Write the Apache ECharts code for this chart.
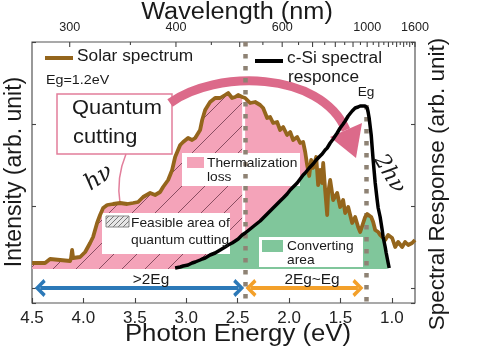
<!DOCTYPE html>
<html><head><meta charset="utf-8">
<script src="https://cdn.jsdelivr.net/npm/echarts/dist/echarts.min.js"></script>
<style>html,body{margin:0;padding:0;background:#fff}#c{width:478px;height:358px}</style>
</head><body><div id="c"></div>
<script>
// ---------------- data ----------------
// photon energy grid (eV)
const energies = [4.499,4.421,4.373,4.324,4.227,4.129,4.120,4.110,4.100,4.032,3.983,3.935,3.906,3.867,3.838,3.808,3.769,3.711,3.643,3.575,3.517,3.468,3.419,3.351,3.303,3.254,3.225,3.176,3.137,3.108,3.059,3.030,2.982,2.943,2.913,2.865,2.845,2.816,2.768,2.719,2.670,2.622,2.592,2.554,2.524,2.495,2.456,2.427,2.378,2.330,2.281,2.252,2.213,2.184,2.155,2.116,2.087,2.057,2.019,1.989,1.960,1.921,1.892,1.863,1.843,1.824,1.804,1.785,1.766,1.736,1.717,1.698,1.678,1.668,1.649,1.629,1.620,1.600,1.571,1.532,1.503,1.474,1.454,1.425,1.386,1.357,1.328,1.308,1.289,1.260,1.240,1.231,1.221,1.201,1.192,1.182,1.162,1.143,1.133,1.114,1.094,1.085,1.065,1.055,1.036,1.026,0.997,0.968,0.939,0.900,0.871,0.841,0.803,0.775];
// solar spectrum intensity (arb. unit)
const solarSpectrum = [6,6,6,10,9,8,11,19,11,12,17,26,32,46,54,61,64,65,66,65,66,67,72,76,74,77,82,89,99,112,124,127,131,129,131,139,149,159,167,171,171,174,176,171,172,174,172,171,166,167,164,161,151,152,146,147,139,142,134,137,129,132,126,127,117,104,93,109,101,112,84,99,86,106,79,54,76,89,69,76,62,69,56,62,46,52,42,37,37,52,55,56,55,52,51,47,39,38,37,34,32,31,29,31,34,33,31,22,27,22,27,24,26,29];
// c-Si spectral response (arb. unit), null where not drawn
const siResponse = [null,null,null,null,null,null,null,null,null,null,null,null,null,null,null,null,null,null,null,null,null,null,null,null,null,null,null,null,null,1,2,3,4,6,7,9,10,11,14,16,19,22,24,26,28,30,34,36,40,44,48,51,55,58,61,65,68,71,75,79,82,86,90,94,96,98,101,103,105,109,111,113,115,116,119,121,123,126,130,136,141,145,148,153,158,161,162,163,164,163,161,157,151,134,122,109,86,69,61,52,39,32,22,16,6,1,null,null,null,null,null,null,null,null];
// top axis (wavelength, nm)
const wavelengthTicks = [300,350,400,450,500,550,600,650,700,750,800,850,900,950,1000,1050,1100,1150,1200,1250,1300,1350,1400,1450,1500,1550,1600];
const wavelengthLabels = [300,400,600,1000,1600];
// band-gap markers (eV): 2Eg, Eg
const gapMarkers = [2.43, 1.25];
// energy-range arrows (eV): [>2Eg], [2Eg~Eg]
const rangeArrows = [[4.42, 2.49], [2.37, 1.33]];
const rangeLabels = ['>2Eg', '2Eg~Eg'];

// ---------------- build ----------------
const FONT = '"Liberation Sans", Arial, Helvetica, sans-serif';
const PINK = '#f4a3b9', GREEN = '#80c69b', BROWN = '#94651c', ARROW = '#dc6a8a', BOXPINK = '#e27e9b';
const yMin = -34, yMax = 227;
const X = e => -e;

function hatchCanvas(size, bg, stroke, lw) {
  const c = document.createElement('canvas'); c.width = size; c.height = size;
  const g = c.getContext('2d');
  if (bg) { g.fillStyle = bg; g.fillRect(0, 0, size, size); }
  g.strokeStyle = stroke; g.lineWidth = lw;
  g.beginPath();
  for (const o of [-size, 0, size]) { g.moveTo(o, size); g.lineTo(o + size, 0); }
  g.stroke();
  return c;
}
const hatchPattern = {image: hatchCanvas(23, PINK, 'rgba(110,55,75,0.8)', 1), repeat: 'repeat'};
const legendHatch = {image: hatchCanvas(5, '#e6e6e6', '#777', 1), repeat: 'repeat'};

const twoEg = gapMarkers[0];
let lastCover = 0;
energies.forEach((e, i) => { if (siResponse[i] != null && siResponse[i] >= solarSpectrum[i]) lastCover = i; });
const solarData = [], hatchData = [], pinkData = [], greenData = [], respData = [];
energies.forEach((e, i) => {
  const s = solarSpectrum[i], r = siResponse[i];
  solarData.push([X(e), s]);
  if (e >= twoEg - 1e-9) hatchData.push([X(e), s]);
  if (e <= twoEg + 1e-9 && i <= lastCover) pinkData.push([X(e), s]);
  if (r != null) { greenData.push([X(e), Math.min(s, r)]); respData.push([X(e), r]); }
});
const waveData = wavelengthTicks.map(w => [X(1240 / w), yMax, w]);

function renderWave(params, api) {
  const p = api.coord([api.value(0), api.value(1)]);
  const wl = api.value(2);
  const major = wl % 100 === 0;
  const children = [{type: 'line', shape: {x1: p[0], y1: p[1], x2: p[0], y2: p[1] + (major ? 5 : 3)}, style: {stroke: '#444', lineWidth: 1.1}}];
  if (wavelengthLabels.indexOf(wl) >= 0) {
    children.push({type: 'text', x: p[0], y: p[1] - 14, scaleX: 1.05,
      style: {text: String(wl), font: '12px ' + FONT, fill: '#222', align: 'center', verticalAlign: 'middle'}});
  }
  return {type: 'group', children};
}

const chevron = 'path://M0,10 L9,0 L18,10 L15,12.5 L9,5.5 L3,12.5 Z';
const arrowColors = ['#2c79b8', '#f3a02a'];
const arrowY = -19;
const arrowLines = rangeArrows.map((a, k) => [
  {coord: [X(a[0]), arrowY], symbol: chevron, symbolSize: [18, 11], lineStyle: {color: arrowColors[k], width: 4, type: 'solid'}, itemStyle: {color: arrowColors[k]}},
  {coord: [X(a[1]), arrowY], symbol: chevron, symbolSize: [18, 11]}
]);
const dashLines = [
  [{coord: [X(gapMarkers[0]), yMax]}, {coord: [X(gapMarkers[0]), yMin]}],
  [{coord: [X(gapMarkers[1]), 164]}, {coord: [X(gapMarkers[1]), yMin]}]
];

function txt(text, x, y, size, opts) {
  opts = opts || {};
  return {type: 'text', x, y, z: 20, rotation: opts.rot || 0, scaleX: opts.sx || 1,
    style: {text, font: (opts.style || '') + size + 'px ' + (opts.family || FONT), fill: opts.fill || '#1a1a1a',
      align: opts.align || 'left', verticalAlign: 'middle'}};
}

const graphics = [
  // legend
  {type: 'line', z: 20, shape: {x1: 45, y1: 58, x2: 73, y2: 58}, style: {stroke: BROWN, lineWidth: 4}},
  txt('Solar spectrum', 77, 57, 16, {sx: 1.08}),
  txt('Eg=1.2eV', 46, 80, 13, {sx: 1.1}),
  {type: 'line', z: 20, shape: {x1: 255, y1: 61, x2: 283, y2: 61}, style: {stroke: '#000', lineWidth: 4}},
  txt('c-Si spectral', 287, 59, 16, {sx: 1.08}),
  txt('responce', 288, 78, 16, {sx: 1.08}),
  txt('Eg', 366, 92, 13, {align: 'center', sx: 1.05}),
  // big arrow
  {type: 'bezierCurve', z: 4, shape: {x1: 170, y1: 103, cpx1: 215, cpy1: 70, cpx2: 320, cpy2: 70, x2: 346, y2: 130}, style: {stroke: ARROW, lineWidth: 9, fill: null}},
  {type: 'polygon', z: 4, shape: {points: [[330, 137], [362, 123], [356, 158]]}, style: {fill: ARROW}},
  // quantum cutting box
  {type: 'rect', z: 3, shape: {x: 57, y: 94, width: 115, height: 60}, style: {fill: '#fff', stroke: BOXPINK, lineWidth: 1.5}},
  txt('Quantum', 72, 108.5, 21, {sx: 1.04}),
  txt('cutting', 73, 137, 21, {sx: 1.04}),
  {type: 'bezierCurve', z: 4, shape: {x1: 126, y1: 154, cpx1: 116, cpy1: 178, x2: 120, y2: 203}, style: {stroke: BOXPINK, lineWidth: 1.5, fill: null}},
  txt('hν', 99, 178, 23, {rot: 0.6, style: 'italic ', family: '"DejaVu Serif", serif', align: 'center'}),
  txt('2hν', 389, 174, 22, {rot: -1.03, style: 'italic ', family: '"DejaVu Serif", serif', align: 'center'}),
  // thermalization box
  {type: 'rect', z: 3, shape: {x: 182, y: 153, width: 118, height: 33}, style: {fill: '#fff'}},
  {type: 'rect', z: 3, shape: {x: 187, y: 157, width: 17, height: 11}, style: {fill: PINK}},
  txt('Thermalization', 207, 163, 13, {sx: 1.06}),
  txt('loss', 207, 177, 13, {sx: 1.06}),
  // feasible box
  {type: 'rect', z: 3, shape: {x: 102, y: 213, width: 128, height: 41}, style: {fill: '#fff'}},
  {type: 'rect', z: 3, shape: {x: 106, y: 216, width: 23, height: 11}, style: {fill: legendHatch, stroke: '#888', lineWidth: 1}},
  txt('Feasible area of', 131, 223, 13, {sx: 1.06}),
  txt('quantum cutting', 131, 240, 13, {sx: 1.06}),
  // converting box
  {type: 'rect', z: 3, shape: {x: 259, y: 237, width: 104, height: 30}, style: {fill: '#fff'}},
  {type: 'rect', z: 3, shape: {x: 262, y: 240, width: 21, height: 12}, style: {fill: GREEN}},
  txt('Converting', 287, 246, 13, {sx: 1.06}),
  txt('area', 287, 260, 13, {sx: 1.06}),
  // range labels
  txt(rangeLabels[0], 151, 280, 14, {align: 'center', sx: 1.1}),
  txt(rangeLabels[1], 312, 280, 14, {align: 'center', sx: 1.1}),
  // axis titles
  txt('Wavelength (nm)', 237, 13, 23, {align: 'center', sx: 1.1}),
  txt('Photon Energy (eV)', 238, 335, 23, {align: 'center', sx: 1.12}),
  txt('Intensity (arb. unit)', 15, 172, 23, {align: 'center', rot: Math.PI / 2}),
  txt('Spectral Response (arb. unit)', 438, 184, 22.5, {align: 'center', rot: Math.PI / 2})
];

const tickAxis = side => ({type: 'value', position: side, inverse: true, min: 0, max: 261 / 82, interval: 1,
  axisLine: {show: false, onZero: false}, axisLabel: {show: false}, splitLine: {show: false},
  axisTick: {show: true, inside: true, length: 4, lineStyle: {color: '#444', width: 1.1}}});

const option = {
  animation: false,
  backgroundColor: '#fff',
  grid: {left: 32, right: 63, top: 42, bottom: 55, show: true, borderColor: '#555', borderWidth: 1.2,
    backgroundColor: 'transparent', containLabel: false, outerBoundsMode: 'none'},
  xAxis: [{
    type: 'value', min: -4.5, max: -0.775, interval: 0.5, position: 'bottom',
    axisLine: {show: false, onZero: false},
    axisTick: {show: true, inside: true, length: 5, lineStyle: {color: '#444', width: 1.1}},
    axisLabel: {show: true, margin: 7, fontSize: 17, color: '#222', fontFamily: FONT, showMaxLabel: false,
      formatter: v => (Math.abs(v * 2 - Math.round(v * 2)) < 1e-6 ? (-v).toFixed(1) : '')},
    splitLine: {show: false}
  }],
  yAxis: [
    {type: 'value', min: yMin, max: yMax, show: false},
    tickAxis('left'),
    tickAxis('right')
  ],
  graphic: graphics,
  series: [
    {type: 'line', data: hatchData, symbol: 'none', silent: true, z: 1, lineStyle: {width: 0},
      areaStyle: {color: hatchPattern, opacity: 1, origin: 0}},
    {type: 'line', data: pinkData, symbol: 'none', silent: true, z: 1, lineStyle: {width: 0},
      areaStyle: {color: PINK, opacity: 1, origin: 0}},
    {type: 'line', data: greenData, symbol: 'none', silent: true, z: 2, lineStyle: {width: 0},
      areaStyle: {color: GREEN, opacity: 1, origin: 0}},
    {type: 'line', name: 'Solar spectrum', data: solarData, symbol: 'none', silent: true, z: 5,
      lineStyle: {color: BROWN, width: 3.8, join: 'round'},
      markLine: {silent: true, animation: false, label: {show: false}, data: arrowLines}},
    {type: 'line', name: 'c-Si spectral responce', data: respData, symbol: 'none', silent: true, z: 6,
      lineStyle: {color: '#000', width: 3.5, join: 'round'},
      markLine: {silent: true, animation: false, symbol: ['none', 'none'], label: {show: false},
        lineStyle: {color: '#8e8274', width: 4.5, type: [4.5, 7.5]}, data: dashLines}},
    {type: 'custom', data: waveData, renderItem: renderWave, clip: false, silent: true, z: 7}
  ]
};
const chart = echarts.init(document.getElementById('c'));
chart.setOption(option);
</script></body></html>
